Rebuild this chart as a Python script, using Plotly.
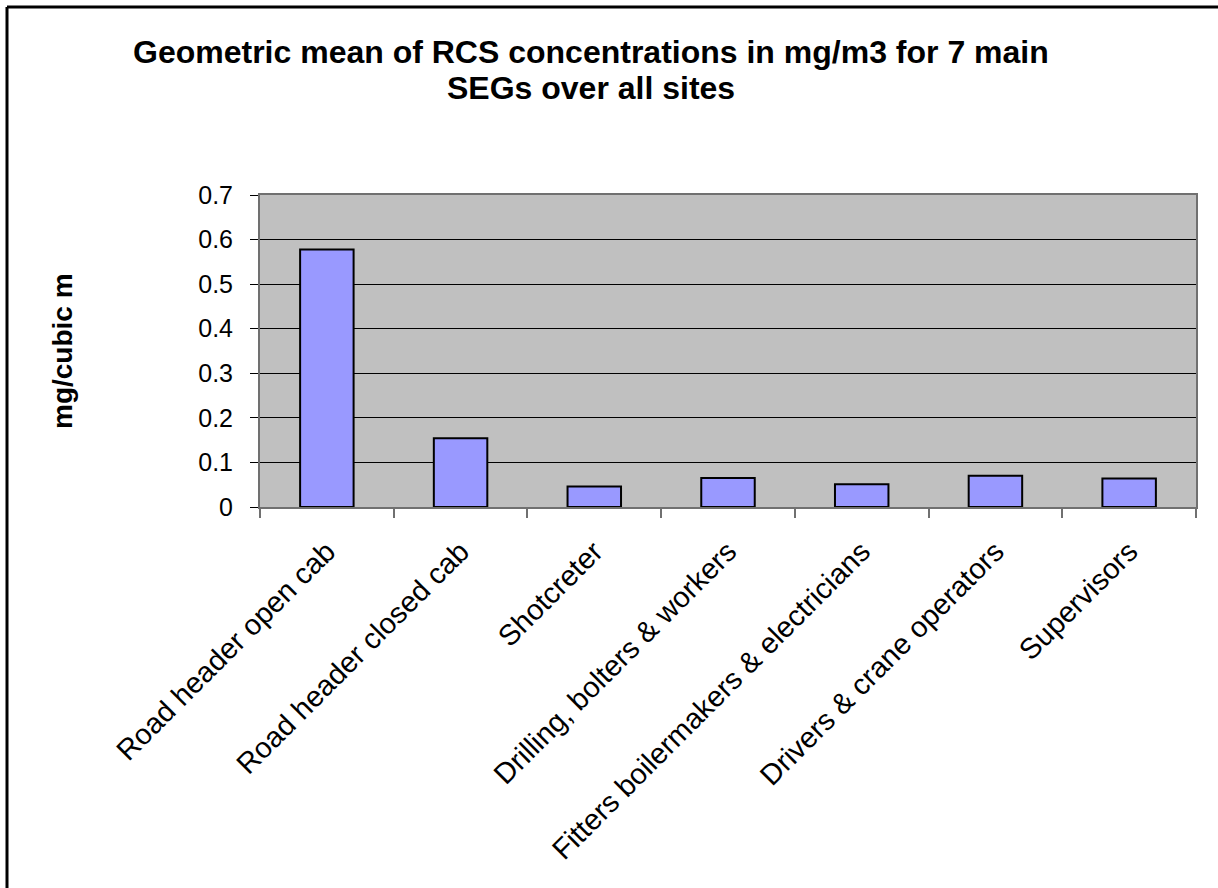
import plotly.graph_objects as go

# Similar exposure groups and their geometric mean RCS concentrations (mg/m3)
categories = [
    "Road header open cab",
    "Road header closed cab",
    "Shotcreter",
    "Drilling, bolters & workers",
    "Fitters boilermakers & electricians",
    "Drivers & crane operators",
    "Supervisors",
]
geo_means = [0.578, 0.154, 0.046, 0.065, 0.051, 0.070, 0.064]
y_ticks = [0, 0.1, 0.2, 0.3, 0.4, 0.5, 0.6, 0.7]
title_lines = [
    "Geometric mean of RCS concentrations in mg/m3 for 7 main",
    "SEGs over all sites",
]

W, H = 1218, 888
L, R, T, B = 260, 22, 195, 381
pw, ph = W - L - R, H - T - B


def px_x(p):
    return (p - L) / pw


def px_y(p):
    return (H - B - p) / ph


FONT = "Liberation Sans, Arial, sans-serif"

fig = go.Figure(
    go.Bar(
        x=categories,
        y=geo_means,
        width=0.4,
        marker=dict(color="#9999FF", line=dict(color="black", width=2)),
    )
)

fig.update_layout(
    width=W,
    height=H,
    margin=dict(l=L, r=R, t=T, b=B, pad=0),
    paper_bgcolor="white",
    plot_bgcolor="#C0C0C0",
    showlegend=False,
    font=dict(family=FONT, color="black"),
)

fig.update_yaxes(
    range=[0, 0.7],
    tickvals=y_ticks,
    ticktext=[f"{v:g}" for v in y_ticks],
    tickfont=dict(size=25, family=FONT, color="black"),
    ticklabelstandoff=12,
    showgrid=True,
    gridcolor="black",
    gridwidth=1,
    showline=True,
    linecolor="#707070",
    linewidth=2,
    mirror=True,
    ticks="outside",
    ticklen=8,
    tickcolor="black",
    tickwidth=1,
    zeroline=False,
)

fig.update_xaxes(
    tickangle=-45,
    tickfont=dict(size=29, family=FONT, color="black"),
    ticklabelstandoff=14,
    tickson="boundaries",
    ticks="outside",
    ticklen=9,
    tickcolor="#707070",
    tickwidth=2,
    showline=True,
    linecolor="#707070",
    linewidth=2,
    mirror=True,
    showgrid=False,
)

# Two-line chart title
for line, yc in zip(title_lines, [52, 88]):
    fig.add_annotation(
        text=f"<b>{line}</b>",
        xref="paper",
        yref="paper",
        x=px_x(591),
        y=px_y(yc),
        xanchor="center",
        yanchor="middle",
        showarrow=False,
        font=dict(size=32, family=FONT, color="black"),
    )

fig.add_annotation(
    text="<b>mg/cubic m</b>",
    textangle=-90,
    xref="paper",
    yref="paper",
    x=px_x(62),
    y=px_y(351),
    xanchor="center",
    yanchor="middle",
    showarrow=False,
    font=dict(size=28, family=FONT, color="black"),
)

# Chart frame (left and top edges)
fig.add_shape(type="line", xref="paper", yref="paper",
              x0=px_x(7), x1=px_x(7), y0=px_y(7), y1=px_y(H + 5),
              line=dict(color="black", width=3))
fig.add_shape(type="line", xref="paper", yref="paper",
              x0=px_x(7), x1=px_x(W + 5), y0=px_y(7), y1=px_y(7),
              line=dict(color="black", width=3))

fig.write_html("out.html")
